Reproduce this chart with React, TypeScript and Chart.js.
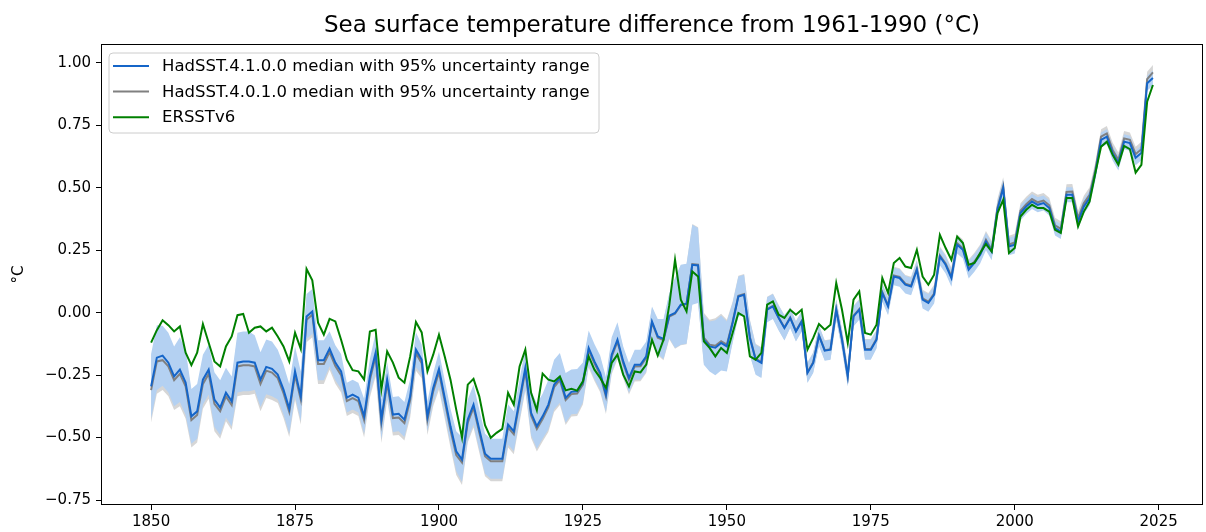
import React, { useEffect, useRef } from "react";
import { Chart, registerables } from "chart.js";

Chart.register(...registerables);

const START_YEAR = 1850;

// HadSST.4.1.0.0 annual median, 1850-2024 (°C vs 1961-1990)
const HADSST41 = [
  -0.295, -0.18, -0.172, -0.2, -0.255, -0.228, -0.28, -0.415, -0.395, -0.268,
  -0.228, -0.348, -0.38, -0.32, -0.355, -0.2, -0.195, -0.195, -0.2, -0.268,
  -0.217, -0.225, -0.248, -0.308, -0.385, -0.235, -0.335, -0.015, 0.005, -0.19,
  -0.19, -0.144, -0.2, -0.235, -0.34, -0.328, -0.34, -0.415, -0.255, -0.16,
  -0.428, -0.268, -0.408, -0.405, -0.428, -0.335, -0.148, -0.188, -0.415, -0.301,
  -0.225, -0.34, -0.455, -0.555, -0.588, -0.428, -0.368, -0.468, -0.565, -0.585,
  -0.585, -0.585, -0.448, -0.475, -0.348, -0.221, -0.401, -0.455, -0.415, -0.368,
  -0.288, -0.261, -0.341, -0.317, -0.315, -0.279, -0.141, -0.195, -0.241, -0.328,
  -0.168, -0.108, -0.195, -0.261, -0.208, -0.208, -0.175, -0.035, -0.095, -0.105,
  -0.012, -0.001, 0.032, 0.036, 0.192, 0.189, -0.108, -0.135, -0.14, -0.121,
  -0.135, -0.041, 0.065, 0.072, -0.101, -0.188, -0.201, 0.012, 0.025, -0.021,
  -0.061, -0.021, -0.075, -0.035, -0.241, -0.201, -0.092, -0.152, -0.148, 0.012,
  -0.108, -0.255, -0.015, 0.012, -0.148, -0.148, -0.108, 0.079, 0.025, 0.145,
  0.139, 0.112, 0.105, 0.172, 0.052, 0.039, 0.072, 0.225, 0.192, 0.139,
  0.272, 0.252, 0.172, 0.199, 0.232, 0.285, 0.245, 0.412, 0.499, 0.265,
  0.272, 0.399, 0.425, 0.445, 0.432, 0.439, 0.419, 0.339, 0.325, 0.472,
  0.472, 0.365, 0.425, 0.459, 0.559, 0.692, 0.705, 0.639, 0.599, 0.685,
  0.679, 0.62, 0.64, 0.919, 0.94,
];

// HadSST.4.0.1.0 annual median, 1850-2024
const HADSST401 = [
  -0.31, -0.195, -0.19, -0.215, -0.27, -0.245, -0.295, -0.43, -0.41, -0.285,
  -0.245, -0.365, -0.395, -0.335, -0.37, -0.215, -0.21, -0.21, -0.215, -0.285,
  -0.232, -0.24, -0.262, -0.322, -0.398, -0.25, -0.348, -0.028, -0.008, -0.205,
  -0.205, -0.158, -0.214, -0.25, -0.354, -0.342, -0.354, -0.43, -0.27, -0.174,
  -0.442, -0.282, -0.422, -0.42, -0.442, -0.35, -0.162, -0.202, -0.43, -0.315,
  -0.238, -0.354, -0.47, -0.57, -0.6, -0.44, -0.38, -0.48, -0.575, -0.595,
  -0.595, -0.595, -0.46, -0.487, -0.36, -0.233, -0.412, -0.466, -0.426, -0.378,
  -0.298, -0.27, -0.35, -0.326, -0.324, -0.288, -0.15, -0.203, -0.249, -0.336,
  -0.176, -0.116, -0.202, -0.268, -0.215, -0.214, -0.181, -0.04, -0.1, -0.11,
  -0.016, -0.004, 0.03, 0.034, 0.195, 0.192, -0.1, -0.128, -0.132, -0.114,
  -0.128, -0.036, 0.068, 0.075, -0.097, -0.184, -0.198, 0.014, 0.027, -0.019,
  -0.059, -0.019, -0.073, -0.033, -0.238, -0.198, -0.09, -0.15, -0.146, 0.014,
  -0.106, -0.252, -0.012, 0.015, -0.145, -0.145, -0.104, 0.083, 0.029, 0.149,
  0.143, 0.116, 0.109, 0.176, 0.057, 0.044, 0.077, 0.23, 0.197, 0.145,
  0.278, 0.258, 0.178, 0.205, 0.238, 0.292, 0.252, 0.42, 0.507, 0.273,
  0.281, 0.408, 0.434, 0.455, 0.442, 0.449, 0.43, 0.35, 0.336, 0.484,
  0.485, 0.378, 0.438, 0.472, 0.572, 0.705, 0.718, 0.652, 0.612, 0.698,
  0.692, 0.635, 0.655, 0.935, 0.962,
];

// ERSSTv6 annual anomaly, 1850-2024
const ERSSTV6 = [
  -0.12, -0.07, -0.03, -0.05, -0.075, -0.055, -0.16, -0.21, -0.16, -0.045,
  -0.12, -0.195, -0.215, -0.135, -0.095, -0.01, -0.005, -0.08, -0.06, -0.055,
  -0.075, -0.06, -0.095, -0.135, -0.195, -0.08, -0.145, 0.175, 0.13, -0.04,
  -0.088, -0.025, -0.035, -0.108, -0.188, -0.23, -0.235, -0.268, -0.075, -0.068,
  -0.308, -0.155, -0.2, -0.26, -0.28, -0.175, -0.037, -0.079, -0.235, -0.168,
  -0.088, -0.175, -0.268, -0.388, -0.5, -0.288, -0.265, -0.335, -0.45, -0.501,
  -0.481, -0.465, -0.321, -0.368, -0.215, -0.148, -0.321, -0.391, -0.244, -0.268,
  -0.275, -0.255, -0.311, -0.305, -0.312, -0.275, -0.175, -0.228, -0.261, -0.301,
  -0.201, -0.168, -0.248, -0.295, -0.235, -0.239, -0.208, -0.108, -0.172, -0.108,
  0.03, 0.212, 0.052, 0.005, 0.165, 0.145, -0.115, -0.141, -0.175, -0.141,
  -0.161, -0.081, -0.001, -0.015, -0.175, -0.188, -0.161, 0.032, 0.045, -0.008,
  -0.021, 0.012, -0.008, 0.012, -0.148, -0.101, -0.045, -0.068, -0.048, 0.119,
  0.012, -0.121, 0.052, 0.085, -0.081, -0.088, -0.048, 0.139, 0.079, 0.199,
  0.219, 0.185, 0.179, 0.252, 0.145, 0.112, 0.152, 0.312, 0.259, 0.212,
  0.305, 0.279, 0.192, 0.199, 0.239, 0.275, 0.245, 0.399, 0.452, 0.239,
  0.259, 0.385, 0.412, 0.432, 0.419, 0.419, 0.405, 0.332, 0.319, 0.459,
  0.459, 0.345, 0.405, 0.445, 0.559, 0.665, 0.685, 0.632, 0.592, 0.668,
  0.655, 0.561, 0.592, 0.845, 0.912,
];

// half-width of the 95% uncertainty range, 1850-2024
const UNC95 = [
  0.13, 0.13, 0.12, 0.12, 0.12, 0.13, 0.13, 0.11, 0.11, 0.1,
  0.1, 0.11, 0.11, 0.1, 0.1, 0.12, 0.12, 0.12, 0.11, 0.11,
  0.11, 0.11, 0.1, 0.1, 0.1, 0.1, 0.1, 0.09, 0.09, 0.08,
  0.08, 0.07, 0.07, 0.07, 0.06, 0.06, 0.06, 0.07, 0.07, 0.08,
  0.08, 0.07, 0.07, 0.07, 0.07, 0.07, 0.07, 0.06, 0.06, 0.06,
  0.07, 0.07, 0.07, 0.08, 0.09, 0.08, 0.08, 0.08, 0.08, 0.08,
  0.08, 0.08, 0.08, 0.08, 0.08, 0.08, 0.09, 0.09, 0.09, 0.1,
  0.1, 0.1, 0.1, 0.09, 0.09, 0.08, 0.07, 0.07, 0.07, 0.07,
  0.07, 0.07, 0.06, 0.06, 0.06, 0.06, 0.06, 0.06, 0.07, 0.08,
  0.09, 0.14, 0.16, 0.16, 0.16, 0.15, 0.1, 0.1, 0.11, 0.11,
  0.1, 0.08, 0.08, 0.08, 0.07, 0.06, 0.06, 0.05, 0.05, 0.05,
  0.05, 0.04, 0.04, 0.04, 0.04, 0.04, 0.04, 0.04, 0.04, 0.04,
  0.04, 0.04, 0.04, 0.04, 0.04, 0.04, 0.035, 0.035, 0.035, 0.035,
  0.035, 0.035, 0.035, 0.035, 0.035, 0.035, 0.035, 0.035, 0.035, 0.035,
  0.035, 0.035, 0.035, 0.035, 0.035, 0.035, 0.035, 0.035, 0.035, 0.035,
  0.035, 0.03, 0.03, 0.03, 0.03, 0.03, 0.03, 0.03, 0.03, 0.03,
  0.03, 0.03, 0.03, 0.03, 0.03, 0.03, 0.03, 0.03, 0.03, 0.03,
  0.03, 0.03, 0.03, 0.03, 0.03,
];

const X_TICKS = [1850, 1875, 1900, 1925, 1950, 1975, 2000, 2025];
const Y_TICKS = [-0.75, -0.5, -0.25, 0, 0.25, 0.5, 0.75, 1.0];
const Y_TICK_LABELS = ["\u22120.75", "\u22120.50", "\u22120.25", "0.00", "0.25", "0.50", "0.75", "1.00"];

const TITLE = "Sea surface temperature difference from 1961-1990 (\u00b0C)";
const Y_LABEL = "\u00b0C";
const LABEL_41 = "HadSST.4.1.0.0 median with 95% uncertainty range";
const LABEL_401 = "HadSST.4.0.1.0 median with 95% uncertainty range";
const LABEL_ERSST = "ERSSTv6";

const C_BLUE = "#1565c8";
const C_GRAY = "#808080";
const C_GREEN = "#008000";
const C_BLUE_BAND = "rgb(180,209,242)";
const C_GRAY_BAND = "rgba(128,128,128,0.32)";
const FONT = "DejaVu Sans";

export default function App() {
  const ref = useRef<HTMLCanvasElement | null>(null);

  useEffect(() => {
    const canvas = ref.current;
    if (!canvas) return;
    const years = HADSST41.map((_, i) => START_YEAR + i);
    const pts = (arr: number[]) => arr.map((v, i) => ({ x: years[i], y: v }));
    const band = (c: number[], sign: number) =>
      c.map((v, i) => ({ x: years[i], y: v + sign * UNC95[i] }));

    const legendItems = [
      { label: LABEL_41, color: C_BLUE },
      { label: LABEL_401, color: C_GRAY },
      { label: LABEL_ERSST, color: C_GREEN },
    ];

    const decor = {
      id: "decor",
      afterDatasetsDraw(chart: any) {
        const { ctx, chartArea: a } = chart;
        ctx.save();
        // frame
        ctx.strokeStyle = "#000";
        ctx.lineWidth = 1;
        ctx.strokeRect(a.left + 0.5, a.top + 0.5, a.right - a.left - 1, a.bottom - a.top - 1);
        // legend
        const bx = 109, by = 53, bw = 490, bh = 80, r = 4;
        ctx.fillStyle = "rgba(255,255,255,0.8)";
        ctx.strokeStyle = "#cccccc";
        ctx.beginPath();
        ctx.moveTo(bx + r, by);
        ctx.lineTo(bx + bw - r, by);
        ctx.arcTo(bx + bw, by, bx + bw, by + r, r);
        ctx.lineTo(bx + bw, by + bh - r);
        ctx.arcTo(bx + bw, by + bh, bx + bw - r, by + bh, r);
        ctx.lineTo(bx + r, by + bh);
        ctx.arcTo(bx, by + bh, bx, by + bh - r, r);
        ctx.lineTo(bx, by + r);
        ctx.arcTo(bx, by, bx + r, by, r);
        ctx.closePath();
        ctx.fill();
        ctx.stroke();
        ctx.font = `16.5px "${FONT}"`;
        ctx.textBaseline = "middle";
        ctx.textAlign = "left";
        legendItems.forEach((it, i) => {
          const y = 66 + i * 25.6;
          ctx.strokeStyle = it.color;
          ctx.lineWidth = 2;
          ctx.beginPath();
          ctx.moveTo(113, y);
          ctx.lineTo(149, y);
          ctx.stroke();
          ctx.fillStyle = "#000";
          ctx.fillText(it.label, 162, y + 1);
        });
        ctx.restore();
      },
      afterDraw(chart: any) {
        const { ctx, chartArea: a } = chart;
        ctx.save();
        ctx.fillStyle = "#000";
        ctx.textAlign = "center";
        ctx.textBaseline = "middle";
        ctx.font = `23px "${FONT}"`;
        ctx.fillText(TITLE, (a.left + a.right) / 2, 26);
        ctx.translate(19, (a.top + a.bottom) / 2);
        ctx.rotate(-Math.PI / 2);
        ctx.font = `15px "${FONT}"`;
        ctx.fillText(Y_LABEL, 0, 0);
        ctx.restore();
      },
    };

    const line = (label: string, data: any, color: string, order: number) => ({
      label,
      data,
      borderColor: color,
      backgroundColor: color,
      borderWidth: 2,
      pointRadius: 0,
      fill: false,
      tension: 0,
      order,
    });
    const edge = (label: string, data: any, fill: any, bg: string, order: number) => ({
      label,
      data,
      borderWidth: 0,
      borderColor: "rgba(0,0,0,0)",
      backgroundColor: bg,
      pointRadius: 0,
      fill,
      tension: 0,
      order,
    });

    const chart = new Chart(canvas, {
      type: "line",
      data: {
        datasets: [
          line(LABEL_ERSST, pts(ERSSTV6), C_GREEN, 0),
          line(LABEL_41, pts(HADSST41), C_BLUE, 1),
          line(LABEL_401, pts(HADSST401), C_GRAY, 2),
          edge("41 upper", band(HADSST41, 1), "+1", C_BLUE_BAND, 3),
          edge("41 lower", band(HADSST41, -1), false, "rgba(0,0,0,0)", 4),
          edge("401 upper", band(HADSST401, 1), "+1", C_GRAY_BAND, 5),
          edge("401 lower", band(HADSST401, -1), false, "rgba(0,0,0,0)", 6),
        ] as any,
      },
      options: {
        animation: false,
        responsive: false,
        devicePixelRatio: 1,
        layout: { padding: { top: 44, left: 0, right: 3, bottom: 0 } },
        plugins: {
          legend: { display: false },
          title: { display: false },
          tooltip: { enabled: false },
        },
        scales: {
          x: {
            type: "linear",
            min: 1841.3,
            max: 2032.7,
            afterFit: (s: any) => { s.height = 27; },
            afterBuildTicks: (s: any) => { s.ticks = X_TICKS.map((v) => ({ value: v })); },
            ticks: {
              font: { family: FONT, size: 15 },
              color: "#000",
              padding: 3,
              maxRotation: 0,
              autoSkip: false,
              callback: (v: any) => String(v),
            },
            grid: { display: true, drawOnChartArea: false, drawTicks: true, tickLength: 5, color: "#000" },
            border: { display: false },
          },
          y: {
            type: "linear",
            min: -0.77,
            max: 1.076,
            afterFit: (s: any) => { s.width = 101; },
            afterBuildTicks: (s: any) => { s.ticks = Y_TICKS.map((v) => ({ value: v })); },
            ticks: {
              font: { family: FONT, size: 15 },
              color: "#000",
              padding: 5,
              autoSkip: false,
              callback: (v: any) => {
                const i = Y_TICKS.findIndex((t) => Math.abs(t - v) < 1e-9);
                return i >= 0 ? Y_TICK_LABELS[i] : "";
              },
            },
            grid: { display: true, drawOnChartArea: false, drawTicks: true, tickLength: 5, color: "#000" },
            border: { display: false },
          },
        },
      },
      plugins: [decor],
    });

    return () => chart.destroy();
  }, []);

  return (
    <div style={{ position: "fixed", left: 0, top: 0, width: 1206, height: 532, background: "#fff" }}>
      <canvas ref={ref} width={1206} height={532} style={{ display: "block" }} />
    </div>
  );
}
